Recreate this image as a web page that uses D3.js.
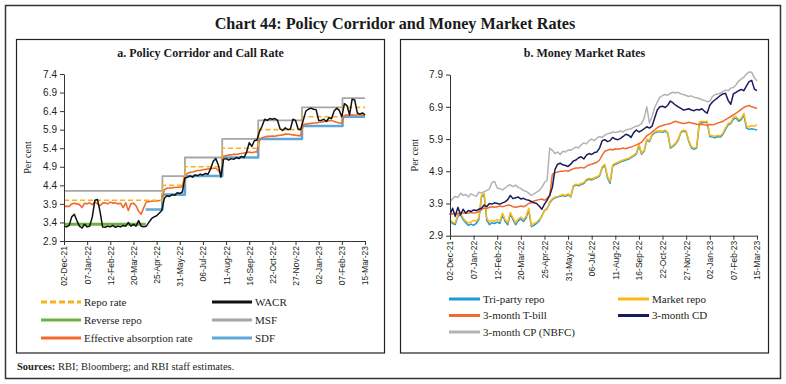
<!DOCTYPE html>
<html>
<head>
<meta charset="utf-8">
<script src="https://cdn.jsdelivr.net/npm/d3@7"></script>
<style>
    body { margin: 0; background: #fff; }
    svg { display: block; font-family: "Liberation Serif", "DejaVu Serif", serif; }
</style>
</head>
<body>
<script>
(function(){

    //x axis tick dates (same on both panels, every 36 days)
    var xTickDates = ["2021-12-02","2022-01-07","2022-02-12","2022-03-20","2022-04-25","2022-05-31","2022-07-06",
        "2022-08-11","2022-09-16","2022-10-22","2022-11-27","2023-01-02","2023-02-07","2023-03-15"];

    var yTicksA = [2.9, 3.4, 3.9, 4.4, 4.9, 5.4, 5.9, 6.4, 6.9, 7.4];
    var yTicksB = [2.9, 3.9, 4.9, 5.9, 6.9, 7.9];

    //policy rates, step changes
    var policyDates = ["2021-12-02","2022-05-04","2022-06-08","2022-08-05","2022-09-30","2022-12-07","2023-02-08","2023-03-15"];
    var repoRate = [4.00, 4.40, 4.90, 5.40, 5.90, 6.25, 6.50, 6.50];
    var msfRate  = [4.25, 4.65, 5.15, 5.65, 6.15, 6.50, 6.75, 6.75];
    var sdfDates = ["2022-04-08","2022-05-04","2022-06-08","2022-08-05","2022-09-30","2022-12-07","2023-02-08","2023-03-15"];
    var sdfRate  = [3.75, 4.15, 4.65, 5.15, 5.65, 6.00, 6.25, 6.25];
    var reverseDates = ["2021-12-02","2022-04-08"];
    var reverseRepo  = [3.35, 3.35];

    //market series are read every 4 days from 02-Dec-21 to 15-Mar-23
    var seriesStart = "2021-12-02", seriesStep = 4;

    var wacr = [3.30, 3.28, 3.32, 3.55, 3.62, 3.45, 3.30, 3.25, 3.35, 3.28,
        3.30, 3.55, 4.00, 4.02, 3.70, 3.28, 3.27, 3.30, 3.28, 3.32,
        3.27, 3.30, 3.28, 3.32, 3.30, 3.40, 3.30, 3.35, 3.30, 3.45,
        3.30, 3.28, 3.30, 3.40, 3.50, 3.55, 3.58, 3.65, 3.72, 4.05,
        4.12, 4.10, 4.15, 4.13, 4.20, 4.18, 4.22, 4.60, 4.62, 4.65,
        4.62, 4.68, 4.66, 4.70, 4.68, 4.72, 4.70, 4.85, 5.05, 5.12,
        4.95, 4.62, 5.10, 5.12, 5.08, 5.12, 5.10, 5.15, 5.12, 5.18,
        5.15, 5.30, 5.55, 5.45, 5.60, 5.62, 5.85, 6.00, 6.18, 6.15,
        6.20, 6.18, 6.20, 6.15, 5.92, 5.88, 5.95, 5.90, 5.92, 6.18,
        6.15, 5.92, 5.90, 6.15, 6.40, 6.45, 6.48, 6.45, 6.44, 6.15,
        6.15, 6.18, 6.12, 6.22, 6.20, 6.40, 6.48, 6.42, 6.25, 6.60,
        6.55, 6.30, 6.72, 6.70, 6.35, 6.32, 6.35, 6.30];

    var absorption = [3.83, 3.84, 3.83, 3.90, 3.92, 3.90, 3.88, 3.80, 3.92, 3.90,
        3.93, 3.88, 3.95, 3.90, 3.85, 3.92, 3.93, 3.90, 3.95, 3.92,
        3.93, 3.90, 3.92, 3.80, 3.93, 3.72, 3.90, 3.92, 3.85, 3.70,
        3.62, 3.80, 3.95, 3.96, 3.97, 3.98, 3.98, 3.99, 4.00, 4.28,
        4.32, 4.33, 4.33, 4.34, 4.35, 4.35, 4.36, 4.70, 4.72, 4.75,
        4.76, 4.78, 4.80, 4.80, 4.82, 4.83, 4.84, 4.85, 4.86, 4.86,
        4.80, 4.70, 5.18, 5.20, 5.22, 5.22, 5.24, 5.23, 5.25, 5.26,
        5.27, 5.28, 5.30, 5.28, 5.30, 5.30, 5.62, 5.68, 5.70, 5.72,
        5.72, 5.73, 5.72, 5.74, 5.75, 5.76, 5.78, 5.78, 5.77, 5.76,
        5.75, 5.74, 5.74, 6.03, 6.05, 6.06, 6.07, 6.08, 6.08, 6.10,
        6.10, 6.12, 6.13, 6.14, 6.15, 6.12, 6.10, 6.08, 6.08, 6.28,
        6.30, 6.28, 6.30, 6.29, 6.30, 6.30, 6.29, 6.28];

    var triParty = [3.35, 3.28, 3.25, 3.50, 3.55, 3.40, 3.30, 3.22, 3.26, 3.22,
        3.28, 3.40, 4.10, 4.18, 3.38, 3.24, 3.30, 3.28, 3.32, 3.28,
        3.55, 3.34, 3.24, 3.58, 3.40, 3.24, 3.36, 3.42, 3.34, 3.45,
        3.70, 3.18, 3.22, 3.28, 3.36, 3.52, 3.68, 3.74, 3.92, 4.02,
        4.08, 4.10, 4.12, 4.15, 4.12, 4.17, 4.10, 4.42, 4.47, 4.45,
        4.49, 4.52, 4.62, 4.65, 4.63, 4.67, 4.70, 4.75, 5.00, 5.08,
        4.70, 4.52, 5.06, 5.12, 5.15, 5.19, 5.22, 5.25, 5.27, 5.32,
        5.37, 5.43, 5.70, 5.43, 5.52, 5.86, 5.82, 6.02, 6.09, 6.12,
        6.13, 6.11, 6.15, 6.07, 5.62, 5.67, 5.75, 5.87, 6.10, 6.15,
        6.12, 5.82, 5.62, 5.58, 5.62, 6.38, 6.42, 6.41, 6.42, 5.98,
        5.96, 5.94, 5.98, 5.96, 6.04, 6.20, 6.34, 6.38, 6.52, 6.55,
        6.45, 6.50, 6.64, 6.24, 6.20, 6.22, 6.20, 6.18];

    var marketRepo = [3.40, 3.32, 3.30, 3.55, 3.60, 3.45, 3.35, 3.30, 3.32, 3.38,
        3.35, 3.45, 4.15, 4.22, 3.45, 3.32, 3.38, 3.35, 3.40, 3.35,
        3.60, 3.40, 3.30, 3.62, 3.45, 3.30, 3.42, 3.48, 3.40, 3.50,
        3.75, 3.22, 3.28, 3.32, 3.40, 3.48, 3.70, 3.72, 3.95, 4.05,
        4.10, 4.12, 4.15, 4.18, 4.15, 4.20, 4.12, 4.45, 4.50, 4.48,
        4.52, 4.55, 4.65, 4.68, 4.66, 4.70, 4.73, 4.78, 5.04, 5.12,
        4.75, 4.58, 5.10, 5.15, 5.18, 5.22, 5.25, 5.28, 5.30, 5.35,
        5.40, 5.46, 5.75, 5.46, 5.55, 5.90, 5.85, 6.05, 6.12, 6.15,
        6.16, 6.14, 6.18, 6.10, 5.66, 5.70, 5.78, 5.90, 6.13, 6.18,
        6.15, 5.85, 5.66, 5.62, 5.65, 6.42, 6.45, 6.44, 6.45, 6.02,
        6.00, 5.98, 6.02, 6.00, 6.08, 6.25, 6.38, 6.42, 6.58, 6.60,
        6.50, 6.55, 6.70, 6.30, 6.28, 6.32, 6.30, 6.35];

    var tBill = [3.55, 3.58, 3.60, 3.58, 3.62, 3.60, 3.61, 3.60, 3.62, 3.60,
        3.62, 3.65, 3.70, 3.76, 3.74, 3.78, 3.80, 3.78, 3.80, 3.82,
        3.80, 3.82, 3.85, 3.84, 3.80, 3.78, 3.80, 3.82, 3.80, 3.84,
        3.90, 3.92, 3.98, 4.00, 4.02, 4.04, 4.00, 4.06, 4.15, 4.80,
        4.85, 4.88, 4.90, 4.90, 4.92, 4.90, 4.94, 4.98, 5.00, 5.00,
        5.02, 5.00, 5.05, 5.10, 5.12, 5.15, 5.18, 5.25, 5.40, 5.52,
        5.55, 5.58, 5.56, 5.60, 5.58, 5.60, 5.62, 5.60, 5.63, 5.65,
        5.68, 5.72, 5.76, 5.80, 5.90, 6.00, 6.05, 6.12, 6.18, 6.25,
        6.30, 6.32, 6.35, 6.36, 6.38, 6.42, 6.45, 6.42, 6.40, 6.38,
        6.40, 6.42, 6.40, 6.38, 6.36, 6.35, 6.36, 6.34, 6.32, 6.35,
        6.34, 6.36, 6.40, 6.42, 6.45, 6.50, 6.55, 6.60, 6.65, 6.70,
        6.76, 6.82, 6.88, 6.92, 6.94, 6.90, 6.88, 6.85];

    var cdRate = [3.55, 3.75, 3.50, 3.78, 3.55, 3.72, 3.60, 3.68, 3.65, 3.70,
        3.68, 3.72, 3.75, 3.85, 3.80, 3.90, 3.88, 3.92, 3.90, 3.88,
        3.92, 3.95, 4.02, 4.15, 4.05, 4.08, 4.10, 4.04, 4.06, 4.02,
        4.00, 3.96, 3.92, 3.90, 3.82, 3.72, 3.88, 4.00, 4.15, 4.40,
        4.95, 5.12, 5.15, 5.10, 5.08, 5.05, 5.12, 5.22, 5.25, 5.32,
        5.35, 5.28, 5.40, 5.45, 5.42, 5.48, 5.50, 5.62, 5.85, 5.88,
        5.82, 5.85, 5.95, 5.90, 5.88, 5.92, 5.98, 6.05, 6.02, 5.95,
        6.10, 6.18, 6.12, 6.16, 6.22, 6.28, 6.24, 6.30, 6.55, 6.80,
        6.90, 6.92, 6.88, 6.95, 7.08, 7.02, 6.95, 6.90, 6.85, 6.80,
        6.82, 6.84, 6.80, 6.78, 6.82, 6.80, 6.84, 6.76, 6.70, 6.95,
        7.05, 7.12, 7.18, 7.25, 7.30, 7.32, 7.10, 6.98, 7.30, 7.35,
        7.40, 7.44, 7.40, 7.55, 7.68, 7.72, 7.45, 7.40];

    var cpRate = [3.96, 4.05, 4.12, 4.08, 4.22, 4.15, 4.18, 4.10, 4.20, 4.16,
        4.12, 4.25, 4.22, 4.27, 4.30, 4.35, 4.55, 4.58, 4.38, 4.36,
        4.32, 4.38, 4.45, 4.48, 4.42, 4.47, 4.40, 4.37, 4.30, 4.28,
        4.22, 4.15, 4.20, 4.25, 4.30, 4.40, 4.55, 4.62, 5.62, 5.55,
        5.45, 5.50, 5.42, 5.52, 5.50, 5.56, 5.55, 5.60, 5.65, 5.62,
        5.72, 5.78, 5.75, 5.85, 5.90, 5.85, 5.93, 5.98, 5.95, 6.02,
        6.06, 6.08, 6.12, 6.10, 6.12, 6.15, 6.12, 6.18, 6.20, 6.22,
        6.26, 6.30, 6.32, 6.38, 6.55, 6.90, 6.40, 6.60, 6.88, 7.05,
        7.20, 7.25, 7.28, 7.26, 7.32, 7.35, 7.33, 7.35, 7.30, 7.28,
        7.25, 7.22, 7.24, 7.20, 7.18, 7.16, 7.12, 7.10, 7.06, 7.08,
        7.22, 7.28, 7.30, 7.32, 7.38, 7.42, 7.40, 7.48, 7.50, 7.58,
        7.70, 7.76, 7.82, 7.92, 7.98, 7.97, 7.80, 7.70];

    //begin script when window loads
    window.onload = setChart();

function setChart(){

    var width = 786,
        height = 384;

    var svg = d3.select("body")
        .append("svg")
        .attr("width", width)
        .attr("height", height);

    var parse = d3.timeParse("%Y-%m-%d");
    var start = parse(seriesStart);

    //pair a value array with the 4-day date grid
    function daily(values){
        return values.map(function(v, i){
            return { date: d3.timeDay.offset(start, i * seriesStep), value: v };
        });
    };

    //pair a value array with its own list of dates
    function steps(dates, values){
        return values.map(function(v, i){
            return { date: parse(dates[i]), value: v };
        });
    };

    //outer frame and main title
    svg.append("rect")
        .attr("x", 5.5).attr("y", 5.5)
        .attr("width", 775).attr("height", 373)
        .attr("fill", "none")
        .attr("stroke", "#333")
        .attr("stroke-width", 1.5);

    svg.append("text")
        .attr("x", 395)
        .attr("y", 29)
        .attr("text-anchor", "middle")
        .attr("font-size", 16.2)
        .attr("font-weight", "bold")
        .attr("fill", "#1a1a1a")
        .text("Chart 44: Policy Corridor and Money Market Rates");

    //panel a
    drawPanel(svg, {
        box: [16.5, 39.5, 368, 313.5],
        title: "a. Policy Corridor and Call Rate",
        titleX: 200.5,
        xRange: [64, 365],
        yRange: [241, 74],
        yDomain: [2.9, 7.4],
        yTicks: yTicksA,
        labelX: 31,
        lines: [
            { data: steps(policyDates, msfRate), color: "#a6a6a6", width: 1.8, step: true },
            { data: steps(reverseDates, reverseRepo), color: "#6fb043", width: 3, step: true },
            { data: steps(sdfDates, sdfRate), color: "#5ea8d8", width: 2.6, step: true },
            { data: daily(absorption), color: "#f26a2e", width: 1.6 },
            { data: steps(policyDates, repoRate), color: "#f7b21a", width: 1.6, dash: "5,3", step: true },
            { data: daily(wacr), color: "#111", width: 1.5 }
        ],
        legend: [
            { label: "Repo rate", color: "#f7b21a", dash: "6,3", x: 41, y: 302 },
            { label: "WACR", color: "#111", x: 212, y: 302 },
            { label: "Reverse repo", color: "#6fb043", x: 41, y: 320 },
            { label: "MSF", color: "#a6a6a6", x: 212, y: 320 },
            { label: "Effective absorption rate", color: "#f26a2e", x: 41, y: 338 },
            { label: "SDF", color: "#5ea8d8", x: 212, y: 338 }
        ],
        swatch: 40
    });

    //panel b
    drawPanel(svg, {
        box: [400.5, 39.5, 368, 313.5],
        title: "b. Money Market Rates",
        titleX: 584.5,
        xRange: [450, 757],
        yRange: [235.7, 74.6],
        yDomain: [2.9, 7.9],
        yTicks: yTicksB,
        labelX: 418,
        lines: [
            { data: daily(cpRate), color: "#b3b3b3", width: 1.5 },
            { data: daily(triParty), color: "#1e9bd7", width: 1.5 },
            { data: daily(marketRepo), color: "#fcb913", width: 1.5 },
            { data: daily(tBill), color: "#f26a2e", width: 1.5 },
            { data: daily(cdRate), color: "#1b1b5c", width: 1.5 }
        ],
        legend: [
            { label: "Tri-party repo", color: "#1e9bd7", x: 449, y: 299 },
            { label: "Market repo", color: "#fcb913", x: 618, y: 299 },
            { label: "3-month T-bill", color: "#f26a2e", x: 449, y: 315.5 },
            { label: "3-month CD", color: "#1b1b5c", x: 618, y: 315.5 },
            { label: "3-month CP (NBFC)", color: "#b3b3b3", x: 449, y: 332 }
        ],
        swatch: 31
    });

    //sources note
    var note = svg.append("text")
        .attr("x", 17)
        .attr("y", 370)
        .attr("font-size", 10.5)
        .attr("fill", "#231f20");
    note.append("tspan").attr("font-weight", "bold").text("Sources: ");
    note.append("tspan").text("RBI; Bloomberg; and RBI staff estimates.");
}; //end of setChart()

function drawPanel(svg, cfg){
    var parse = d3.timeParse("%Y-%m-%d");
    var tickDates = xTickDates.map(parse);

    //panel frame
    svg.append("rect")
        .attr("x", cfg.box[0]).attr("y", cfg.box[1])
        .attr("width", cfg.box[2]).attr("height", cfg.box[3])
        .attr("fill", "none")
        .attr("stroke", "#222")
        .attr("stroke-width", 1.2);

    svg.append("text")
        .attr("x", cfg.titleX)
        .attr("y", 57)
        .attr("text-anchor", "middle")
        .attr("font-size", 12)
        .attr("font-weight", "bold")
        .attr("fill", "#1a1a1a")
        .text(cfg.title);

    var x = d3.scaleTime()
        .domain([tickDates[0], tickDates[tickDates.length - 1]])
        .range(cfg.xRange);

    var y = d3.scaleLinear()
        .domain(cfg.yDomain)
        .range(cfg.yRange);

    //lines
    cfg.lines.forEach(function(s){
        var line = d3.line()
            .x(function(d){ return x(d.date); })
            .y(function(d){ return y(d.value); })
            .curve(s.step ? d3.curveStepAfter : d3.curveLinear);

        svg.append("path")
            .datum(s.data)
            .attr("fill", "none")
            .attr("stroke", s.color)
            .attr("stroke-width", s.width)
            .attr("stroke-dasharray", s.dash || null)
            .attr("stroke-linejoin", "round")
            .attr("d", line);
    });

    //y axis
    var yAxis = svg.append("g")
        .attr("transform", "translate(" + cfg.xRange[0] + ",0)")
        .call(d3.axisLeft(y)
            .tickValues(cfg.yTicks)
            .tickFormat(d3.format(".1f"))
            .tickSize(4)
            .tickSizeOuter(0)
            .tickPadding(3));
    yAxis.selectAll("text").attr("font-size", 10).attr("font-family", null).attr("fill", "#231f20");
    yAxis.selectAll("line, path").attr("stroke", "#333");

    //x axis with rotated date labels
    var xAxis = svg.append("g")
        .attr("transform", "translate(0," + cfg.yRange[0] + ")")
        .call(d3.axisBottom(x)
            .tickValues(tickDates)
            .tickFormat(d3.timeFormat("%d-%b-%y"))
            .tickSize(4)
            .tickSizeOuter(0));
    xAxis.selectAll("line, path").attr("stroke", "#333");
    xAxis.selectAll("text")
        .attr("font-size", 8.5)
        .attr("font-family", null)
        .attr("fill", "#231f20")
        .attr("transform", "rotate(-90)")
        .attr("text-anchor", "end")
        .attr("x", -5)
        .attr("y", 0)
        .attr("dy", "0.35em");

    //y axis title
    svg.append("text")
        .attr("transform", "translate(" + cfg.labelX + "," + ((cfg.yRange[0] + cfg.yRange[1]) / 2) + ") rotate(-90)")
        .attr("text-anchor", "middle")
        .attr("font-size", 10)
        .attr("fill", "#231f20")
        .text("Per cent");

    //legend
    cfg.legend.forEach(function(item){
        svg.append("line")
            .attr("x1", item.x).attr("x2", item.x + cfg.swatch)
            .attr("y1", item.y).attr("y2", item.y)
            .attr("stroke", item.color)
            .attr("stroke-width", 3)
            .attr("stroke-dasharray", item.dash || null);

        svg.append("text")
            .attr("x", item.x + cfg.swatch + 3)
            .attr("y", item.y)
            .attr("dy", "0.35em")
            .attr("font-size", 11)
            .attr("fill", "#231f20")
            .text(item.label);
    });
};

})();
</script>
</body>
</html>
